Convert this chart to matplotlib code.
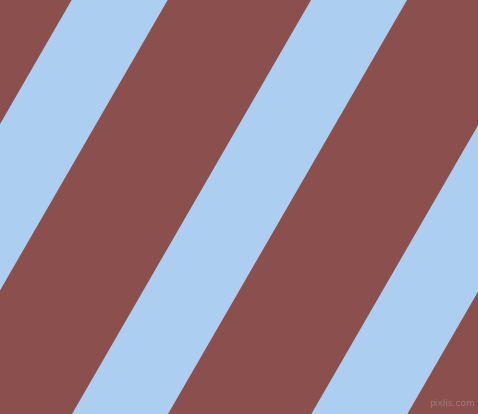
import matplotlib
matplotlib.use("Agg")
import matplotlib.pyplot as plt
from matplotlib.patches import Polygon
import numpy as np

# Pattern values
stripe_starts_top = [71.7 - 239.3 * 2, 71.7 - 239.3, 71.7, 71.7 + 239.3, 71.7 + 239.3 * 2]
stripe_width = 96.0
angle_deg = 60.0
background_color = "#8b504d"
stripe_color = "#abcef1"
watermark = "pixlis.com"

W, H = 478, 414
fig = plt.figure(figsize=(W / 100 + 0.001, H / 100 + 0.001), dpi=100)
ax = fig.add_axes([0, 0, 1, 1])
ax.set_xlim(0, W)
ax.set_ylim(H, 0)
ax.axis("off")
ax.add_patch(plt.Rectangle((0, 0), W, H, color=background_color, zorder=0))

shift = H / np.tan(np.radians(angle_deg))
for x0 in stripe_starts_top:
    poly = Polygon([(x0, 0), (x0 + stripe_width, 0),
                    (x0 + stripe_width - shift, H), (x0 - shift, H)],
                   closed=True, facecolor=stripe_color, edgecolor="none", zorder=1)
    ax.add_patch(poly)

ax.text(475, 403, watermark, ha="right", va="center", fontsize=6.5,
        color="#9c7c7c", family="DejaVu Sans", zorder=2)

fig.savefig("out.png", dpi=100)
